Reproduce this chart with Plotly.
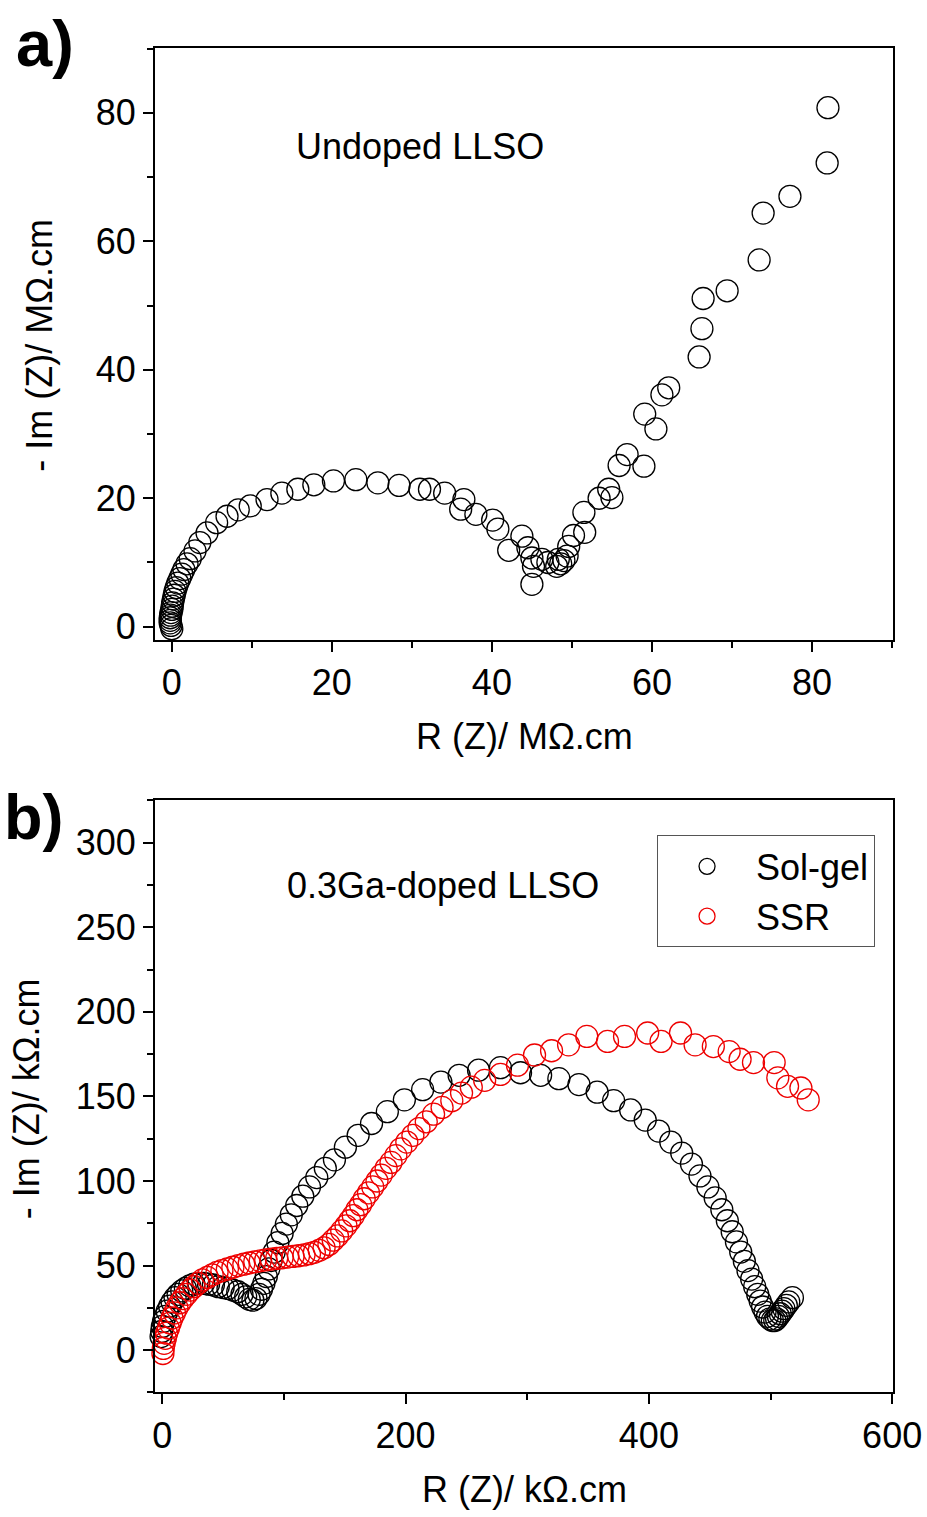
import plotly.graph_objects as go

# ---------------- Panel a: Undoped LLSO (MOhm.cm) ----------------
undoped_re = [0.0, -0.1, -0.2, -0.2, -0.2, -0.15, -0.1, 0.0, 0.05, 0.1, 0.2, 0.3, 0.4, 0.55, 0.75,
              1.0, 1.25, 1.5, 1.9, 2.3, 2.9, 3.5, 4.4, 5.6, 6.9, 8.3, 9.8, 11.9, 13.75, 15.75,
              17.75, 20.2, 23.0, 25.75, 28.4, 31.0, 32.2, 34.1, 36.5, 36.1, 38.0, 40.1, 40.75,
              42.1, 43.75, 44.5, 45.0, 45.2, 45.0, 46.25, 47.0, 48.1, 48.3, 48.6, 49.0, 49.4,
              49.6, 50.2, 51.6, 51.5, 53.4, 55.0, 54.6, 55.9, 56.9, 59.0, 60.5, 59.1, 61.25,
              62.1, 65.9, 66.25, 66.4, 69.4, 73.4, 73.9, 77.25, 81.9, 82.0]
undoped_im = [-0.3, 0.2, 0.6, 1.0, 1.4, 1.8, 2.2, 2.7, 3.2, 3.7, 4.3, 4.9, 5.5, 6.1, 6.8,
              7.5, 8.2, 8.9, 9.8, 10.6, 11.8, 13.1, 14.6, 16.2, 17.2, 18.2, 18.8, 19.8, 20.8, 21.4,
              22.1, 22.7, 22.9, 22.4, 22.0, 21.4, 21.4, 20.8, 19.8, 18.3, 17.5, 16.6, 15.2,
              11.9, 14.1, 12.3, 10.7, 9.4, 6.6, 10.5, 10.0, 9.4, 10.5, 9.8, 10.3, 11.0,
              12.5, 14.2, 14.7, 17.8, 20.0, 20.1, 21.4, 25.1, 26.8, 25.0, 30.8, 33.1, 36.1,
              37.2, 42.0, 46.4, 51.1, 52.3, 57.1, 64.4, 67.0, 72.2, 80.8]

# ---------------- Panel b: 0.3Ga-doped LLSO (kOhm.cm) ----------------
solgel_re = [-1, -0.5, 0, 1, 2.5, 4, 6, 8, 10.5, 13, 16, 19, 22.5, 26, 30, 34, 38, 42, 46, 50,
             54, 58, 62, 65.5, 68.5, 71.5, 74.5, 77, 79.5, 81.5, 83.5, 85.5, 87.5, 89.5, 92,
             95, 98.5, 102, 106, 110.5, 115.5, 121, 127, 134, 141.5, 150.5, 161, 172, 185, 199,
             214, 229, 244, 260, 278, 294.5, 311, 326, 342.5, 357.5, 371, 385, 397, 408, 418,
             427, 435, 442, 448.5, 454.5, 460, 464.5, 468.5, 472, 475.5, 478.5, 481.5, 484.5,
             487, 489.5, 491.5, 493.5, 495.5, 497.5, 499.5, 501.5, 503.5, 505, 506.5, 508,
             509.5, 511, 513, 515, 518]
solgel_im = [8, 11, 14, 17, 20, 23, 26, 28.5, 31, 33, 35, 36.5, 38, 39, 39.5, 39.5, 39, 38.5,
             37.5, 37, 36.5, 35.5, 34.5, 33, 31.5, 30, 29.5, 30.5, 33, 36, 39.5, 43.5, 48, 53,
             58, 63.5, 69, 74.5, 80, 85.5, 91, 96.5, 102, 107.5, 112.5, 120, 127, 134, 141, 148,
             154, 158.5, 162.5, 165.5, 167, 164, 162.5, 160.5, 157, 152.5, 147.5, 142, 136,
             129.5, 123, 116.5, 110, 103, 96.5, 90, 83, 76.5, 70, 64, 58, 52.5, 47, 42, 37.5,
             33, 29, 25.5, 22.5, 20, 18.5, 17.5, 17.5, 18.5, 20, 21.5, 23, 24.5, 26.5, 28.5, 31]

ssr_re = [0.5, 0.8, 1.5, 2.5, 3.5, 5, 6.5, 8, 10, 12, 14.5, 17, 20, 23, 26, 29.5, 33, 37, 41,
          45, 49, 53.5, 58, 62.5, 67, 71.5, 76, 80.5, 85, 89.5, 94, 98.5, 103, 107.5, 112,
          116.5, 121, 125, 129, 133, 137, 140.5, 144, 147.5, 151, 154, 157, 160, 163, 166,
          169.5, 173, 176.5, 180, 184, 188, 192, 196, 201, 206, 211, 217, 223, 230, 238, 246,
          254, 265, 278, 292, 306, 320, 334, 349, 366, 380, 399, 410, 426, 438, 453, 466, 475,
          486, 503, 506, 514, 525, 531]
ssr_im = [-2, 1, 4, 7, 10, 13, 16, 19, 22, 25, 28, 30.5, 33, 35.5, 37.5, 39.5, 41.5, 43, 44.5,
          46, 47, 48, 49, 50, 50.8, 51.5, 52.2, 52.8, 53.3, 53.8, 54.2, 54.6, 55, 55.4, 55.8,
          56.3, 57, 57.8, 59, 60.5, 62.5, 65, 67.5, 70.5, 73.5, 76.5, 79.5, 83, 86, 89.5,
          93, 96.5, 100, 103.5, 107.5, 111, 115, 119, 123, 127, 131, 135, 139.5, 143.5, 147.5,
          152, 155.5, 159.5, 163, 168.5, 174.5, 177, 180.5, 185.5, 182.5, 185.5, 187.5, 182.5,
          187.5, 180.5, 179.5, 176.5, 172, 170, 170, 161, 156, 155, 148]

series_names = ["Sol-gel", "SSR"]
series_colors = ["black", "#ee0000"]

FONT = "Liberation Sans, Arial, sans-serif"
FS = 36
# page canvas (the captured page appears to be ~958x1524, shown at 927x1517)
W, H = 960, 1526
SX, SY = 958 / 927, 1524 / 1517


def px2x(px):
    # reference pixel -> paper fraction
    return px * SX / W


def py2y(py):
    return 1 - py * SY / H


PX_L, PX_R = 153, 890.7
A_T, A_B = 48, 640
B_T, B_B = 801, 1393.3

marker_base = dict(symbol="circle-open", size=22, line=dict(width=1.3))

fig = go.Figure()
fig.add_trace(go.Scatter(x=undoped_re, y=undoped_im, mode="markers", xaxis="x", yaxis="y",
                         marker=dict(color="black", **marker_base), showlegend=False,
                         cliponaxis=False))
fig.add_trace(go.Scatter(x=solgel_re, y=solgel_im, mode="markers", xaxis="x2", yaxis="y2",
                         name=series_names[0], marker=dict(color=series_colors[0], **marker_base),
                         cliponaxis=False))
fig.add_trace(go.Scatter(x=ssr_re, y=ssr_im, mode="markers", xaxis="x2", yaxis="y2",
                         name=series_names[1], marker=dict(color=series_colors[1], **marker_base),
                         cliponaxis=False))

axis_common = dict(
    showline=True, linecolor="black", linewidth=2, mirror=True,
    ticks="outside", ticklen=10, tickwidth=2, tickcolor="black",
    showgrid=False, zeroline=False,
    tickfont=dict(family=FONT, size=FS, color="black"),
)


def minor(d):
    return dict(ticks="outside", ticklen=6, tickwidth=2, tickcolor="black", dtick=d, showgrid=False)


fig.update_layout(
    width=W, height=H, autosize=False,
    margin=dict(l=0, r=0, t=0, b=0),
    paper_bgcolor="white", plot_bgcolor="white",
    xaxis=dict(domain=[px2x(PX_L), px2x(PX_R)], anchor="y", range=[-2.1, 90.1],
               tick0=0, dtick=20, minor=minor(10), **axis_common),
    yaxis=dict(domain=[py2y(A_B), py2y(A_T)], anchor="x", range=[-2, 90.1],
               tick0=0, dtick=20, minor=minor(10), **axis_common),
    xaxis2=dict(domain=[px2x(PX_L), px2x(PX_R)], anchor="y2", range=[-6, 600.5],
                tick0=0, dtick=200, minor=minor(100), **axis_common),
    yaxis2=dict(domain=[py2y(B_B), py2y(B_T)], anchor="x2", range=[-25, 325],
                tick0=0, dtick=50, minor=minor(25), **axis_common),
    legend=dict(x=px2x(655), y=py2y(836), xanchor="left", yanchor="top",
                bordercolor="#555555", borderwidth=1, bgcolor="rgba(255,255,255,0)",
                font=dict(family=FONT, size=FS, color="black"), itemwidth=88,
                tracegroupgap=0),
    showlegend=True,
)


def ann(text, x, y, xref="paper", yref="paper", size=FS, angle=0, xanchor="center"):
    return dict(text=text, x=x, y=y, xref=xref, yref=yref, showarrow=False,
                xanchor=xanchor, yanchor="middle", textangle=angle,
                font=dict(family=FONT, size=size, color="black"))


annots = [
    ann("Undoped LLSO", 31, 74.8, "x", "y"),
    ann("0.3Ga-doped LLSO", 231, 274.5, "x2", "y2"),
    ann("R (Z)/ MΩ.cm", px2x(522), py2y(737)),
    ann("R (Z)/ kΩ.cm", px2x(522), py2y(1490)),
    ann("- Im (Z)/ MΩ.cm", px2x(38), py2y(346), angle=-90),
    ann("- Im (Z)/ kΩ.cm", px2x(24), py2y(1100), angle=-90),
    ann("<b>a)</b>", px2x(12), py2y(44), size=65, xanchor="left"),
    ann("<b>b)</b>", px2x(0), py2y(818), size=63, xanchor="left"),
]
fig.update_layout(annotations=annots)

post = (
    "document.documentElement.style.margin='0';"
    "document.documentElement.style.overflow='hidden';"
    "document.body.style.margin='0';"
    "document.body.style.overflow='hidden';"
)

fig.write_html(
    "out.html",
    config={"displayModeBar": False, "responsive": False},
    post_script=post,
)
